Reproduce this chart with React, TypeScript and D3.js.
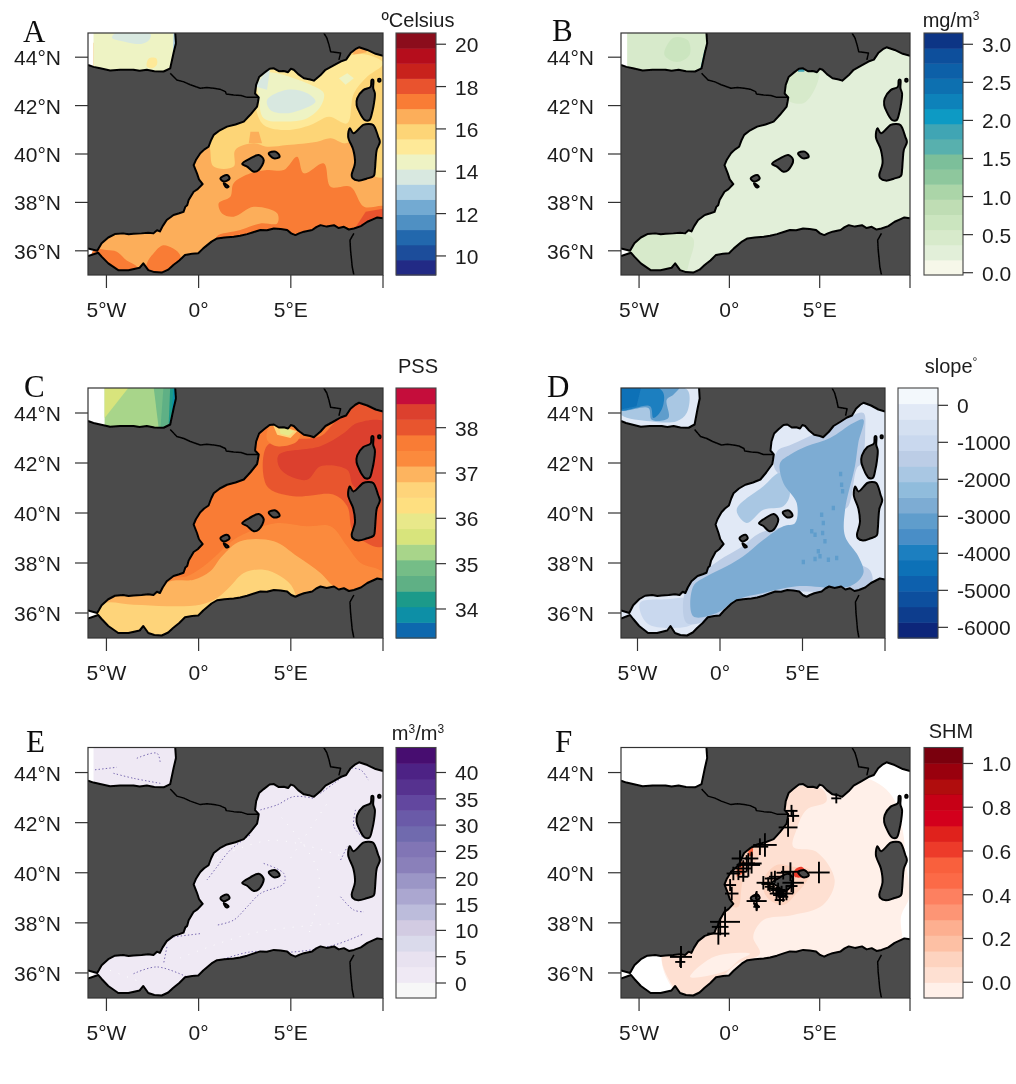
import React from "react";
import * as d3 from "d3";

type Pt = [number, number];
type Patch = [number, Pt[]];

// coastlines, lon/lat
const iberiaFranceCoast: Pt[] = [[-6,36.1],[-5.5,36.0],[-5.26,36.31],[-4.9,36.55],[-4.54,36.69],[-4.1,36.72],[-3.8,36.68],[-3.53,36.7],[-3.1,36.72],[-2.73,36.75],[-2.45,36.72],[-2.26,36.85],[-2.1,36.8],[-1.95,37.02],[-1.73,37.27],[-1.36,37.48],[-1.05,37.55],[-0.82,37.61],[-0.72,37.82],[-0.62,37.88],[-0.54,38.1],[-0.27,38.44],[-0.05,38.55],[0.22,38.76],[0.02,38.95],[-0.09,39.2],[-0.27,39.54],[-0.15,39.75],[0.09,40.03],[0.3,40.18],[0.54,40.3],[0.68,40.58],[0.82,40.79],[1.15,40.98],[1.54,41.13],[2.0,41.22],[2.45,41.34],[2.8,41.62],[3.17,41.96],[3.22,42.15],[3.26,42.34],[3.06,42.5],[3.12,42.86],[3.28,43.18],[3.53,43.34],[3.85,43.52],[4.08,43.54],[4.35,43.42],[4.62,43.43],[4.85,43.38],[5.0,43.52],[5.16,43.48],[5.4,43.3],[5.71,43.13],[6.05,43.08],[6.25,43.03],[6.6,43.25],[6.88,43.48],[7.3,43.65],[7.7,43.82],[8.0,43.9],[8.24,44.17],[8.5,44.33],[8.7,44.41],[9.15,44.3],[9.6,44.14],[10,44.06]];
const africaCoast: Pt[] = [[10,37.34],[9.69,37.38],[9.45,37.3],[9.15,37.2],[8.8,37.02],[8.42,36.92],[8.15,36.88],[7.88,36.99],[7.6,36.94],[7.34,37.06],[6.95,37.0],[6.61,37.06],[6.38,36.98],[6.16,36.86],[5.71,36.79],[5.45,36.72],[5.25,36.65],[5.02,36.72],[4.8,36.86],[4.45,36.9],[4.08,36.92],[3.7,36.85],[3.35,36.86],[3.0,36.78],[2.63,36.69],[2.25,36.62],[1.9,36.58],[1.4,36.55],[1.0,36.51],[0.7,36.38],[0.25,36.1],[-0.02,35.9],[-0.35,35.88],[-0.74,35.83],[-1.05,35.6],[-1.37,35.41],[-1.65,35.22],[-2,35.1],[-2.4,35.12],[-2.73,35.2],[-3,35.48],[-3.2,35.3],[-3.81,35.2],[-4.36,35.2],[-4.9,35.48],[-5.26,35.76],[-5.45,35.92],[-6,35.78]];
const biscayCoast: Pt[] = [[-1.27,45],[-1.23,44.58],[-1.36,44.17],[-1.54,43.54],[-1.9,43.41],[-2.4,43.42],[-2.81,43.48],[-3.2,43.44],[-3.53,43.48],[-4.26,43.48],[-4.8,43.45],[-5.34,43.54],[-5.7,43.6],[-6,43.68]];
const corsica: Pt[] = [[9.38,43.06],[9.33,42.78],[8.93,42.64],[8.6,42.3],[8.57,42.02],[8.71,41.75],[8.85,41.55],[9.02,41.4],[9.26,41.4],[9.42,41.75],[9.51,42.09],[9.56,42.51],[9.47,42.72],[9.47,43.06]];
const sardinia: Pt[] = [[9.2,41.24],[9.47,41.2],[9.74,40.71],[9.83,40.5],[9.66,40.17],[9.6,39.75],[9.56,39.34],[9.5,39.1],[9.1,38.98],[8.66,38.9],[8.35,39.0],[8.3,39.13],[8.48,39.62],[8.39,40.17],[8.11,40.71],[8.2,41.06],[8.39,40.86],[8.93,41.2]];
const mallorca: Pt[] = [[2.36,39.59],[2.81,39.82],[3.26,39.96],[3.53,39.75],[3.26,39.34],[2.99,39.27],[2.63,39.48]];
const menorca: Pt[] = [[3.8,40.03],[4.17,40.1],[4.4,39.89],[4.08,39.82]];
const ibiza: Pt[] = [[1.18,38.99],[1.54,39.13],[1.68,38.99],[1.36,38.86]];
const formentera: Pt[] = [[1.36,38.79],[1.63,38.65],[1.5,38.62]];
const capraia: Pt[] = [[9.75,43.1],[9.85,43.1],[9.85,43.0],[9.75,43.0]];
const islands = [corsica, sardinia, mallorca, menorca, ibiza, formentera, capraia];

const borders: Pt[][] = [
  [[-1.54,43.34],[-1.18,43.06],[-0.8,42.98],[-0.45,42.86],[0.09,42.72],[0.45,42.75],[0.82,42.72],[1.15,42.68],[1.45,42.58],[1.5,42.48],[1.9,42.44],[2.3,42.42],[2.63,42.34],[3.26,42.34]],
  [[6.79,45],[6.95,44.8],[7.07,44.51],[7.16,44.23],[7.7,44.17],[7.61,43.89]],
  [[8.42,36.72],[8.21,36.44],[8.24,36.03],[8.33,35.34],[8.42,35]],
];

// colour ramps, low to high
const sstColors = ["#232b85","#1e4e9b","#2468ad","#5090c3","#73aad2","#aed0e4","#d8e8e0","#eef3c4","#fee998","#fdd577","#fcae5a","#f97b34","#e9532f","#c8201f","#b5091e","#8b0a1f"];
const chlColors = ["#f6f7e9","#e2efd9","#d7eacb","#cbe5bf","#bfddb4","#abd5a8","#8ec79d","#7bbf9a","#58b0ae","#41a5b4","#0a9ac4","#0882ba","#0a70b0","#0a60a8","#0a4f9c","#0a3585"];
const salColors = ["#0b68ae","#0a8fa6","#1f9a8a","#5fb085","#74bd87","#a8d58a","#d8e47c","#e8e88a","#fedf80","#fed47a","#fdb45f","#fb8a3c","#f97b34","#e8552f","#dc3f2f","#c50f3b"];
const slopeColors = ["#08267a","#0b3c8d","#0c4f9e","#0d60ad","#1171b7","#1f7fc0","#4a8ec7","#5f9dcc","#7dacd3","#90bcdc","#a9c7e3","#bccde6","#c9d8ee","#d4e0f1","#e1e9f6","#f3f8fc"];
const purpleColors = ["#f7f7f7","#efe9f4","#e8e2f0","#dadaeb","#d2cbe2","#bcbcdb","#aba7d0","#9b96c6","#8a80ba","#8175b5","#706aae","#6a5aa8","#62479f","#56308f","#4e2385","#46096f"];
const redColors = ["#fff0e9","#fee0d2","#fdd3bf","#fdc0a4","#fdaf90","#fd9574","#fd8060","#fc6b47","#f9603c","#ed3b2c","#e0201f","#d3001c","#c70512","#b00710","#990010","#7a0010"];

// fields: band value + outline in lon/lat, painted in order and clipped to the sea
const sstPatches: Patch[] = [
  [16.6, [[-5.7,34.9],[10.1,34.9],[10.1,44.6],[-5.7,44.6]]],
  [14.5, [[-5.7,43],[-1,43],[-1,45.1],[-5.7,45.1]]],
  [13.8, [[-4.7,44.8],[-3.9,44.62],[-3.1,44.55],[-2.7,44.7],[-2.6,44.95],[-4.5,45]]],
  [15.2, [[-2.81,43.62],[-2.5,43.55],[-2.26,43.7],[-2.3,43.96],[-2.7,43.95]]],
  [13, [[-1.42,43.5],[-1,43.5],[-1,45.1],[-1.36,45.1]]],
  [15.9, [[0.63,40.17],[0.82,39.48],[1.9,39.48],[1.99,40.17],[2.99,40.44],[3.71,40.3],[4.8,40.37],[6.43,40.51],[7.16,40.65],[7.88,40.44],[8.5,40.5],[9.3,39.2],[10.05,39.06],[10.2,45],[0.6,45]]],
  [16.6, [[2.72,40.44],[2.81,40.92],[3.26,40.92],[3.44,40.44]]],
  [16.6, [[8.3,44.6],[9.2,44.6],[9.1,44.2],[8.4,44.1]]],
  [15.2, [[3.08,41.96],[3.53,41.2],[4.8,40.99],[6.07,41.2],[7.07,41.54],[8.06,41.27],[8.42,42.51],[9.15,43.2],[10.02,43.75],[9.15,44.1],[8.42,44.1],[7.34,43.89],[5.53,43.61],[2.99,43.61]]],
  [14.5, [[3.17,43.34],[4.26,43.34],[5.16,43.13],[6.07,42.86],[6.79,42.51],[6.61,41.96],[5.89,41.48],[4.62,41.34],[3.53,41.48],[3.26,42.38]]],
  [13.8, [[3.71,42.23],[4.8,42.65],[5.89,42.51],[6.34,42.17],[5.53,41.82],[4.62,41.68],[3.89,41.82]]],
  [13.8, [[3.08,42.79],[3.53,43.27],[3.89,43.6],[3.71,42.65]]],
  [14.5, [[7.61,43.13],[8.06,43.34],[8.42,43.13],[7.97,42.86]]],
  [17.3, [[1.09,37.96],[1.72,38.23],[1.9,38.79],[2.81,39.2],[3.71,39.34],[4.62,39.34],[5.34,39.89],[5.71,39.2],[6.79,39.61],[7.16,38.65],[8.24,38.65],[8.97,37.82],[10.1,37.82],[10.1,37.13],[8.42,36.72],[5.16,36.44],[1.0,36.3],[1.0,36.6],[2.26,36.86],[3.35,37.13],[4.26,37.13],[4.26,37.55],[2.99,37.82],[1.9,37.41],[1.27,37.54]]],
  [17.3, [[-5.7,36.03],[-5,36.03],[-4.44,35.96],[-3.9,35.6],[-3.35,35.34],[-3.35,34.9],[-5.7,34.9]]],
  [17.3, [[-2.81,35.48],[-2.45,35.89],[-1.9,36.23],[-1,35.82],[-1.36,34.9],[-2.81,34.9]]],
  [18, [[9.06,37.61],[10.1,37.75],[10.1,37.13],[8.42,36.86]]],
];
const chlPatches: Patch[] = [
  [0.3, [[-5.3,34.9],[10.1,34.9],[10.1,44.6],[-5.3,44.6]]],
  [0.45, [[-5.66,43],[-1,43],[-1,45.1],[-5.66,45.1]]],
  [0.6, [[-3.6,44.1],[-2.9,43.8],[-2.2,44.1],[-2.3,44.7],[-3.1,44.8]]],
  [0.45, [[-5.3,36.8],[-3,36.8],[-2,36.5],[-2.2,35.6],[-2.6,34.9],[-5.3,34.9]]],
  [0.45, [[3.1,42.3],[4.1,42.1],[4.9,43],[4.9,43.6],[3.1,43.6]]],
  [1.9, [[-1.38,44.3],[-1,44.3],[-1,43.4],[-1.65,43.4]]],
  [1.9, [[3.8,43.4],[4.15,43.4],[4.15,43.7],[3.8,43.7]]],
];
const salPatches: Patch[] = [
  [37.7, [[-5.3,34.9],[10.1,34.9],[10.1,41],[-5.3,41]]],
  [37.7, [[0,41],[10.1,41],[10.1,44.9],[0,44.9]]],
  [35.25, [[-5.1,43],[-1,43],[-1,45.1],[-5.1,45.1]]],
  [35.6, [[-5.1,45.1],[-3.71,45.1],[-5.1,43.8]]],
  [34.9, [[-2.45,45.1],[-1,45.1],[-1,43],[-2.1,43]]],
  [34.5, [[-1.9,45.1],[-1,45.1],[-1,43],[-2.08,43.27]]],
  [34.1, [[-1.54,45.1],[-1,45.1],[-1,43.3],[-1.63,43.47]]],
  [33.9, [[-1.36,45.1],[-1,45.1],[-1,44],[-1.45,44.1]]],
  [37.3, [[-1.72,37.33],[-0.63,37.47],[0.27,37.87],[1,38.33],[1.9,38.93],[2.99,39.33],[4.26,39.6],[5.89,39.47],[7.16,39.47],[8.06,38.67],[8.79,38],[10.02,37.6],[10.2,36],[-1.72,36]]],
  [37, [[-5.3,36.6],[-4.62,36.8],[-2.26,36.93],[-1.54,37.27],[-0.27,37.33],[0.63,37.67],[1.27,38.27],[2.26,38.87],[4.08,38.87],[5.34,38.27],[6.61,37.6],[7.34,37.07],[8.42,36.8],[8.42,36],[-5.3,35.8]]],
  [36.6, [[-5.3,36.33],[-3.53,36.33],[-1.72,36.27],[0.09,36.33],[1,36.6],[1.72,37.07],[2.45,37.6],[3.53,37.73],[4.44,37.47],[5.16,36.93],[5.16,34.9],[-5.3,34.9]]],
  [38, [[3.71,42.69],[4.98,42.93],[6.61,43.07],[7.34,43.6],[8.7,44.53],[10.2,44.5],[10.02,38.67],[8.42,39.2],[8.06,40.27],[7.34,40.73],[5.16,40.67],[3.71,41.07]]],
  [38.35, [[4.35,42.33],[6.61,42.67],[7.88,43.2],[8.6,43.6],[10.2,43.6],[10.2,40.53],[8.42,41.07],[8.06,41.73],[6.61,41.87],[5.89,41.33],[4.8,41.53],[4.35,41.87]]],
  [37.3, [[3.89,43.49],[5.53,43.4],[5.34,42.87],[4.26,42.67],[3.71,42.93]]],
  [36.6, [[3.99,43.6],[5.34,43.27],[4.98,43],[4.26,43.13]]],
  [36.1, [[4.35,43.5],[5.16,43.27],[4.89,43.09],[4.44,43.17]]],
];
const slopePatches: Patch[] = [
  [-300, [[-6.1,34.9],[10.1,34.9],[10.1,45.1],[-6.1,45.1]]],
  [-1800, [[-2.63,45.1],[-1.92,44.87],[-2.02,44],[-2.63,43.67],[-4.24,43.67],[-6.1,44],[-6.1,45.1]]],
  [-3300, [[-6.1,45.1],[-2.42,45.1],[-2.83,44.73],[-3.23,44.53],[-3.13,43.8],[-4.14,43.73],[-4.34,44.2],[-6.1,44.13]]],
  [-3900, [[-6.1,45.1],[-4.04,45.1],[-3.43,44.8],[-3.54,44.13],[-4.04,43.8],[-4.24,44.27],[-6.1,44.13]]],
  [-4400, [[-6.1,45.1],[-4.75,45.1],[-5.05,44.27],[-6.1,44.13]]],
  [-1000, [[-4.85,36.4],[-3.3,36.55],[-1.82,36.53],[-1.62,35.6],[-3,35.4],[-4.44,35.6]]],
  [-1300, [[-2.02,35.6],[-2.02,37.07],[-0.81,37.73],[0,38.13],[1.21,38.6],[2.42,39.2],[3.54,39.4],[4.9,39.7],[5,40.4],[4.2,41.2],[3.3,41.8],[3.5,42.5],[4.2,42.7],[5.2,43],[6.4,43.4],[8,43.9],[8.7,44],[8.8,43.3],[8.6,42],[8.3,41.8],[7.8,40.3],[7.3,40],[7.2,39],[8.1,38.1],[9.1,37.7],[9.2,37.2],[8,36.85],[4.6,36.85],[2.6,36.6],[1,36.3],[-0.3,35.8]]],
  [-1800, [[1.01,40.13],[2.63,41.07],[3.64,41.6],[4.24,40.8],[3.84,40.27],[2.63,40.13],[1.62,39.6]]],
  [-2700, [[-1.62,35.87],[-1.62,37.07],[-0.81,37.47],[0.4,37.87],[1.41,38.27],[2.63,38.93],[3.84,39.47],[4.55,39.6],[4.65,40.4],[3.84,41.2],[3.64,42],[4.24,42.33],[5.25,42.67],[6.67,43],[8.08,43.6],[8.69,43.73],[8.38,42.8],[8.18,41.87],[7.58,40.13],[7.58,39.07],[8.38,38.27],[8.69,37.6],[7.88,37.07],[4.65,37.07],[2.63,36.8],[1.01,36.53],[-0.2,36]]],
];
const slopeSpots: Pt[] = [[7.31,41.56],[7.37,41.13],[7.43,40.87],[6.87,40.2],[6.16,39.93],[6.26,39.6],[6.22,39.2],[5.56,39.27],[5.76,39.13],[5.96,38.47],[6.06,38.27],[5.76,38.16],[6.57,38.13],[7.07,38.2],[5.05,38.04],[6.36,38.87]];
const flowPatches: Patch[] = [
  [1.5, [[-5.7,34.9],[10.1,34.9],[10.1,45.1],[-5.7,45.1]]],
];
const flowFronts: Pt[][] = [
  [[-5.62,44.11],[-4.44,44.21]],
  [[-4.62,43.97],[-3.53,43.77],[-2.08,43.57]],
  [[-3.35,44.57],[-2.26,44.77],[-2.08,44.37]],
  [[6.61,43.17],[7.34,43.57],[8.06,43.97]],
  [[7.9,44.2],[8.8,44.1],[9.2,43.7]],
  [[3.35,42.51],[4.26,42.71],[5.16,43.04],[6.25,42.97]],
  [[8.51,42.51],[8.42,41.84],[8.88,41.44]],
  [[7.7,40.51],[8.06,41.04]],
  [[7.7,39.04],[8.42,38.51],[8.97,38.44]],
  [[3.53,40.37],[4.62,39.97],[4.62,39.57],[3.35,39.17],[2.63,38.64],[1.9,38.11],[1,37.91]],
  [[0.45,39.71],[1,40.24],[1.72,40.91],[2.81,41.51]],
  [[-1.36,37.44],[0.09,37.57]],
  [[-3.53,35.97],[-2.26,36.24],[-0.63,35.84]],
  [[-1.72,37.04],[-1.9,36.37]],
  [[1.18,36.51],[2.81,36.84],[5.16,36.84],[7.34,37.11],[8.97,37.57]],
];
const flowGaps: Pt[][] = [
  [[1,40.6],[4,41.3],[8,40.6]],
  [[4.5,42.2],[6.5,40],[6,37.6]],
  [[-1,36.6],[3,37.6],[8,38]],
  [[5,40.6],[7,42.8]],
  [[-4.8,36.1],[-3,35.6]],
];
const shmPatches: Patch[] = [
  [-0.03, [[-3.73,36.71],[-2.35,34.9],[9.6,36.9],[9.6,37.3],[9.5,38.24],[9.96,39.04],[9.78,40.37],[9.6,41.7],[9.14,42.9],[8.49,43.44],[7.57,43.77],[5.55,43.84],[3,44],[-0.5,42],[-2,37.5]]],
  [0.05, [[3.16,43.31],[5.18,43.31],[5.37,42.84],[4.26,42.51],[3.71,41.71],[3.53,41.04],[4.82,40.84],[5.83,39.71],[5.18,38.71],[3.53,38.31],[1.88,38.11],[1.32,37.44],[1.69,36.77],[0.4,36.37],[-1.43,35.17],[-2.54,35.04],[-3.73,36.71],[-1.8,37.57],[0.04,40.1]]],
  [-0.03, [[-2.17,35.84],[-0.88,36.64],[1.14,36.77],[0.5,36.5],[-0.15,36.1]]],
  [0.13, [[-0.15,39.31],[0.04,40.11],[0.96,41.17],[1.88,41.24],[1.51,40.51],[0.77,39.71],[0.5,38.64],[0.22,38.64]]],
  [0.13, [[1.88,39.71],[2.61,40.31],[3.53,40.24],[4.45,40.11],[4.36,39.77],[3.71,39.17],[2.98,38.71],[2.06,39.04]]],
  [0.55, [[1.05,41.04],[1.32,41.04],[1.29,40.67],[1.05,40.67]]],
  [0.5, [[0.4,40.44],[0.86,40.44],[0.77,39.97],[0.4,39.84]]],
  [0.6, [[3.62,40.11],[3.99,40.24],[4.23,40.04],[4.08,39.84],[3.62,39.84]]],
  [0.6, [[3.35,39.51],[3.57,39.57],[3.44,39.24]]],
];
// lon, lat, weight
const shmSites: [number, number, number][] = [[4.96,40.01,1],[3.38,40.04,0.88],[3.53,39.6,1],[2.98,40,0.63],[3.25,41.81,0.88],[3.44,42.47,0.56],[3.53,42.27,0.56],[5.92,42.97,0.47],[1.97,41.11,1.1],[1.69,41.04,0.78],[1.23,40.57,0.63],[1.05,40.31,1.1],[1.23,40.37,0.94],[0.96,40.37,0.78],[0.77,40.17,0.78],[0.5,40.04,0.78],[0.22,39.97,0.63],[0.59,40.57,0.78],[0.77,39.84,0.47],[0.04,39.51,0.56],[0.13,39.17,0.63],[1.51,38.87,0.94],[1.51,38.64,0.31],[1.47,39.08,0.31],[-0.24,38.04,1.4],[-0.51,37.84,0.78],[-0.61,37.57,1.03],[-2.68,36.64,1.03],[-2.72,36.44,0.47],[1.88,39.6,0.63],[2.15,39.55,0.63],[2.33,39.77,0.63],[2.52,39.84,0.56],[2.7,39.31,0.69],[2.89,39.24,0.56],[2.61,39.17,0.63],[2.79,39.11,0.63],[2.43,39.37,0.47],[2.24,39.44,0.47],[2.98,39.04,0.47],[2.79,38.91,0.47],[3.16,39.17,0.63],[3.44,39.47,0.56]];

const lonTicks = [-5, 0, 5, 10];
const lonLabels = ["5°W", "0°", "5°E", ""];
const latTicks = [44, 42, 40, 38, 36];
const sstTicks = [10, 12, 14, 16, 18, 20];
const chlTicks = [0, 0.5, 1, 1.5, 2, 2.5, 3];
const salTicks = [34, 35, 36, 37, 38];
const slopeTicks = [0, -1000, -2000, -3000, -4000, -5000, -6000];
const flowTicks = [0, 5, 10, 15, 20, 25, 30, 35, 40];
const shmTicks = [0, 0.2, 0.4, 0.6, 0.8, 1];

const FONT = "'Liberation Sans', Arial, sans-serif";
const SERIF = "'Liberation Serif', 'Times New Roman', serif";
const LAND = "#4b4b4b";

type PanelProps = {
  id: string; letter: string; letterX: number; letterY: number;
  left: number; right: number; top: number; bottom: number;
  legendLeft: number; legendRight: number;
  colors: string[]; domain: [number, number]; ticks: number[]; fmt: (v: number) => string;
  patches: Patch[]; title: React.ReactNode; titleX: number; titleY: number;
  children?: (x: d3.ScaleLinear<number, number>, y: d3.ScaleLinear<number, number>, c: (v: number) => string) => React.ReactNode;
};

function Panel(p: PanelProps) {
  const x = d3.scaleLinear().domain([-6, 10]).range([p.left, p.right]);
  const y = d3.scaleLinear().domain([35, 45]).range([p.bottom, p.top]);
  const legendY = d3.scaleLinear().domain(p.domain).range([p.bottom, p.top]);
  const color = d3.scaleQuantize<string>().domain(p.domain).range(p.colors);
  const step = (p.domain[1] - p.domain[0]) / p.colors.length;
  const line = d3.line<Pt>().x((d) => x(d[0])).y((d) => y(d[1]));
  const smooth = d3.line<Pt>().x((d) => x(d[0])).y((d) => y(d[1])).curve(d3.curveCatmullRomClosed.alpha(0.5));
  const closed = (r: Pt[]) => (line(r) || "") + "Z";
  // field outlines are rounded, boxes stay square
  const patchPath = (r: Pt[]) => (r.length > 4 ? smooth(r) || "" : closed(r));

  const med = [...iberiaFranceCoast, ...africaCoast];
  const atl = [[-6, 45] as Pt, ...biscayCoast];
  const islandPaths = islands.map((r) => smooth(r) || "");
  const seaD = closed(med) + closed(atl) + islandPaths.join("");
  const clipId = "sea" + p.id;

  return (
    <g fontFamily={FONT} fill="#1c1c1c">
      <text x={p.letterX} y={p.letterY} fontFamily={SERIF} fontSize={31} fill="#111">{p.letter}</text>
      <clipPath id={clipId}><path d={seaD} clipRule="evenodd" /></clipPath>
      <clipPath id={clipId + "f"}><rect x={p.left} y={p.top} width={p.right - p.left} height={p.bottom - p.top} /></clipPath>
      <rect x={p.left} y={p.top} width={p.right - p.left} height={p.bottom - p.top} fill={LAND} />
      <g clipPath={`url(#${clipId}f)`}>
        <path d={seaD} fillRule="evenodd" fill="#fff" />
        <g clipPath={`url(#${clipId})`}>
          {p.patches.map(([v, r], i) => (
            <path key={i} d={patchPath(r)} fill={color(v)} />
          ))}
          {p.children && p.children(x, y, color)}
        </g>
        <g fill="none" stroke="#000" strokeWidth={2} strokeLinejoin="round">
          {[iberiaFranceCoast, africaCoast, biscayCoast].map((r, i) => <path key={i} d={line(r) || ""} />)}
          {islandPaths.map((d, i) => <path key={i} d={d} />)}
          {borders.map((r, i) => <path key={i} d={line(r) || ""} strokeWidth={1.5} />)}
        </g>
      </g>
      <rect x={p.left} y={p.top} width={p.right - p.left} height={p.bottom - p.top} fill="none" stroke="#333" strokeWidth={1.2} />
      {lonTicks.map((t, i) => (
        <g key={t}>
          <line x1={x(t)} x2={x(t)} y1={p.bottom} y2={p.bottom + 13} stroke="#333" strokeWidth={1.2} />
          <text x={x(t)} y={p.bottom + 42} textAnchor="middle" fontSize={21}>{lonLabels[i]}</text>
        </g>
      ))}
      {latTicks.map((t) => (
        <g key={t}>
          <line x1={p.left - 13} x2={p.left} y1={y(t)} y2={y(t)} stroke="#333" strokeWidth={1.2} />
          <text x={p.left - 27} y={y(t) + 8} textAnchor="end" fontSize={21}>{t}°N</text>
        </g>
      ))}
      {p.colors.map((c, i) => {
        const lo = p.domain[0] + i * step;
        return <rect key={i} x={p.legendLeft} width={p.legendRight - p.legendLeft} y={legendY(lo + step)} height={legendY(lo) - legendY(lo + step) + 0.5} fill={c} />;
      })}
      <rect x={p.legendLeft} y={p.top} width={p.legendRight - p.legendLeft} height={p.bottom - p.top} fill="none" stroke="#444" strokeWidth={1.1} />
      {p.ticks.map((t) => (
        <g key={t}>
          <line x1={p.legendRight} x2={p.legendRight + 10} y1={legendY(t)} y2={legendY(t)} stroke="#333" strokeWidth={1.2} />
          <text x={p.legendRight + 19} y={legendY(t) + 8} fontSize={21}>{p.fmt(t)}</text>
        </g>
      ))}
      <text x={p.titleX} y={p.titleY} textAnchor="middle" fontSize={20}>{p.title}</text>
    </g>
  );
}

const fixed1 = d3.format(".1f");
const plain = (v: number) => String(v);
const sup = (s: string) => <tspan dy={-7} fontSize={12}>{s}</tspan>;

export default function App() {
  const siteLen = d3.scaleLinear().domain([0, 1]).range([0, 10.7]);
  return (
    <svg width={1016} height={1084} style={{ position: "absolute", left: 0, top: 0, background: "#fff" }}>
      <defs>
        <filter id="soft" x="0" y="0" width="100%" height="100%">
          <feGaussianBlur stdDeviation={0.45} />
        </filter>
      </defs>
      <g filter="url(#soft)">
        <Panel id="a" letter="A" letterX={23} letterY={42} left={88} right={383} top={33} bottom={275} legendLeft={396} legendRight={436}
          colors={sstColors} domain={[9.1, 20.53]} ticks={sstTicks} fmt={plain} patches={sstPatches}
          title="ºCelsius" titleX={418} titleY={27} />
        <Panel id="b" letter="B" letterX={552} letterY={41} left={621} right={910} top={33} bottom={275} legendLeft={924} legendRight={963}
          colors={chlColors} domain={[-0.03, 3.148]} ticks={chlTicks} fmt={fixed1} patches={chlPatches}
          title={<>mg/m{sup("3")}</>} titleX={951} titleY={27} />
        <Panel id="c" letter="C" letterX={24} letterY={397} left={88} right={383} top={388} bottom={638} legendLeft={396} legendRight={436}
          colors={salColors} domain={[33.36, 38.875]} ticks={salTicks} fmt={plain} patches={salPatches}
          title="PSS" titleX={418} titleY={373} />
        <Panel id="d" letter="D" letterX={547} letterY={397} left={621} right={885} top={388} bottom={638} legendLeft={898} legendRight={938}
          colors={slopeColors} domain={[-6288, 468]} ticks={slopeTicks} fmt={plain} patches={slopePatches}
          title={<>slope{sup("°")}</>} titleX={951} titleY={373}>
          {(x, y, c) => slopeSpots.map(([lon, lat], i) => (
            <rect key={i} x={x(lon - 0.1)} y={y(lat + 0.09)} width={x(0.2) - x(0)} height={y(0) - y(0.18)} fill={c(-3100)} />
          ))}
        </Panel>
        <Panel id="e" letter="E" letterX={26} letterY={752} left={88} right={383} top={747.5} bottom={998} legendLeft={396} legendRight={436}
          colors={purpleColors} domain={[-2.85, 44.75]} ticks={flowTicks} fmt={plain} patches={flowPatches}
          title={<>m{sup("3")}<tspan dy={7}>/m</tspan>{sup("3")}</>} titleX={418} titleY={740}>
          {(x, y, c) => {
            const front = d3.line<Pt>().x((d) => x(d[0])).y((d) => y(d[1])).curve(d3.curveCatmullRom);
            return (
              <>
                {flowGaps.map((r, i) => (
                  <path key={"g" + i} d={front(r) || ""} fill="none" stroke="#fff" strokeWidth={1} strokeDasharray="1 8" />
                ))}
                {flowFronts.map((r, i) => (
                  <path key={i} d={front(r) || ""} fill="none" stroke={c(32)} strokeWidth={0.9} strokeDasharray="1.4 2.2" />
                ))}
              </>
            );
          }}
        </Panel>
        <Panel id="f" letter="F" letterX={555} letterY={752} left={621} right={910} top={747.5} bottom={998} legendLeft={924} legendRight={963}
          colors={redColors} domain={[-0.072, 1.073]} ticks={shmTicks} fmt={fixed1} patches={shmPatches}
          title="SHM" titleX={951} titleY={738} />
        <ShmMarks len={siteLen} />
      </g>
    </svg>
  );
}

function ShmMarks({ len }: { len: d3.ScaleLinear<number, number> }) {
  const x = d3.scaleLinear().domain([-6, 10]).range([621, 910]);
  const y = d3.scaleLinear().domain([35, 45]).range([998, 747.5]);
  return (
    <g stroke="#000" strokeWidth={1.9}>
      {shmSites.map(([lon, lat, w], i) => (
        <g key={i}>
          <line x1={x(lon) - len(w)} x2={x(lon) + len(w)} y1={y(lat)} y2={y(lat)} />
          <line x1={x(lon)} x2={x(lon)} y1={y(lat) - len(w)} y2={y(lat) + len(w)} />
        </g>
      ))}
    </g>
  );
}
